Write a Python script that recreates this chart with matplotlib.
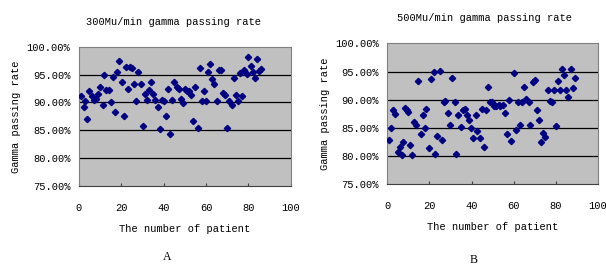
import numpy as np
import matplotlib
matplotlib.use("Agg")
import matplotlib.pyplot as plt
from matplotlib.ticker import FuncFormatter

# Panel A: 300Mu/min, one point per patient
rate_300 = [91.2, 89.2, 90.2, 87.0, 92.1, 91.2, 90.5, 90.6, 91.5, 92.8,
            89.5, 94.9, 92.2, 92.2, 90.0, 94.6, 88.2, 95.5, 97.4, 93.6,
            87.5, 96.4, 92.4, 96.4, 96.2, 93.4, 90.3, 95.4, 93.4, 85.7,
            91.5, 90.5, 92.2, 93.6, 91.5, 90.5, 89.2, 85.2, 90.5, 90.2,
            87.5, 92.5, 84.3, 90.5, 93.6, 92.8, 92.5, 90.6, 89.9, 92.4,
            92.1, 92.1, 91.4, 86.6, 92.7, 85.4, 96.2, 90.3, 92.1, 90.3,
            95.5, 97.0, 94.2, 93.3, 90.3, 95.8, 95.9, 91.7, 91.4, 85.4,
            90.2, 89.6, 94.4, 91.3, 90.2, 95.3, 91.1, 95.8, 95.1, 98.2,
            96.6, 95.5, 94.4, 97.9, 95.6, 96.0]
patient_300 = [1.1, 2.4, 3.1, 4.1, 5.0, 6.1, 7.2, 8.0, 9.0, 10.1,
               11.2, 12.1, 12.9, 14.2, 15.1, 16.2, 17.2, 18.0, 19.1, 20.2,
               21.3, 22.4, 23.0, 24.1, 25.2, 26.1, 27.2, 28.0, 29.3, 30.2,
               31.2, 32.1, 33.1, 34.0, 35.1, 36.1, 37.2, 38.1, 39.1, 40.2,
               41.1, 42.2, 43.1, 44.1, 45.0, 46.1, 47.1, 48.0, 49.0, 50.1,
               51.0, 52.1, 53.1, 54.0, 55.0, 56.1, 57.2, 58.1, 59.1, 60.2,
               61.1, 62.0, 63.0, 63.9, 65.0, 66.0, 67.1, 68.0, 69.0, 70.1,
               71.0, 72.1, 73.1, 74.0, 75.0, 75.9, 77.0, 78.0, 79.1, 80.0,
               81.1, 82.0, 83.0, 84.1, 85.0, 86.0]

# Panel B: 500Mu/min
rate_500 = [82.8, 85.0, 88.2, 87.4, 80.7, 81.6, 80.1, 82.5, 88.6, 88.2,
            87.8, 81.9, 80.2, 86.0, 85.5, 93.4, 83.9, 87.2, 84.9, 88.4,
            81.4, 93.7, 94.9, 80.3, 83.6, 95.1, 82.8, 89.5, 89.8, 87.6,
            85.5, 93.8, 89.5, 80.3, 87.2, 85.2, 88.1, 88.3, 87.2, 86.3,
            85.0, 83.2, 87.2, 84.5, 83.2, 88.3, 81.6, 88.2, 92.2, 89.6,
            89.6, 88.9, 88.8, 89.1, 88.9, 89.1, 87.6, 83.9, 90.0, 82.7,
            94.8, 84.6, 89.6, 85.5, 89.5, 92.3, 90.2, 89.6, 85.5, 93.2,
            93.5, 88.1, 86.4, 82.5, 84.1, 83.3, 91.7, 89.8, 89.6, 91.8,
            85.4, 93.4, 91.7, 95.5, 94.4, 91.8, 90.4, 95.4, 92.0, 93.9]
patient_500 = [0.9, 1.9, 2.7, 3.8, 4.9, 6.0, 7.1, 7.7, 8.5, 9.3,
               9.8, 10.9, 11.8, 12.8, 13.7, 14.7, 15.8, 16.9, 17.7, 18.6,
               19.7, 20.9, 22.0, 22.7, 23.7, 24.8, 25.9, 26.7, 27.6, 28.8,
               29.9, 30.8, 31.9, 32.7, 33.6, 34.8, 35.7, 36.8, 37.8, 38.7,
               39.8, 40.8, 41.9, 42.7, 43.8, 44.7, 45.8, 46.8, 47.7, 48.8,
               49.8, 50.7, 51.8, 52.8, 53.7, 54.8, 55.9, 56.9, 57.8, 58.9,
               59.9, 61.0, 62.1, 62.9, 64.0, 64.9, 65.9, 67.0, 67.9, 69.0,
               70.0, 70.9, 72.0, 73.0, 73.9, 75.0, 76.0, 77.1, 78.0, 79.0,
               80.1, 81.0, 82.1, 82.9, 84.0, 85.0, 85.9, 87.0, 88.0, 88.9]

x_ticks = [0, 20, 40, 60, 80, 100]
y_ticks = [75, 80, 85, 90, 95, 100]

panels = [
    ("300Mu/min gamma passing rate", patient_300, rate_300, "A",
     [0.130, 0.301, 0.350, 0.523], (0.287, 0.917), (0.276, 0.034)),
    ("500Mu/min gamma passing rate", patient_500, rate_500, "B",
     [0.639, 0.308, 0.348, 0.529], (0.799, 0.932), (0.781, 0.024)),
]

mono = "Liberation Mono"
fig = plt.figure(figsize=(6.06, 2.66), dpi=100)

for title, xs, ys, letter, rect, title_pos, letter_pos in panels:
    ax = fig.add_axes(rect)
    ax.set_facecolor("#c0c0c0")
    for g in [80, 85, 90, 95]:
        ax.axhline(g, color="black", lw=0.9, zorder=1)
    ax.plot(xs, ys, linestyle="none", marker="D", ms=3.2,
            color="#000080", zorder=3)
    ax.set_xlim(0, 100)
    ax.set_ylim(75, 100)
    ax.set_xticks(x_ticks)
    ax.set_yticks(y_ticks)
    ax.yaxis.set_major_formatter(FuncFormatter(lambda v, p: f"{v:.2f}%"))
    ax.tick_params(axis="x", direction="in", length=2, width=0.8,
                   colors="#404040", labelcolor="black", pad=12)
    ax.tick_params(axis="y", length=0, pad=6)
    for lab in ax.get_xticklabels() + ax.get_yticklabels():
        lab.set_fontfamily(mono)
        lab.set_fontsize(7.5)
    for side in ax.spines:
        ax.spines[side].set_color("#808080")
        ax.spines[side].set_linewidth(0.8)
    ax.spines["bottom"].set_color("#404040")
    ax.set_xlabel("The number of patient", family=mono, fontsize=7.5, labelpad=8)
    ax.set_ylabel("Gamma passing rate", family=mono, fontsize=7.5, labelpad=4)
    fig.text(title_pos[0], title_pos[1], title, family=mono, fontsize=7.5,
             ha="center", va="center")
    fig.text(letter_pos[0], letter_pos[1], letter, family="Liberation Serif",
             fontsize=8.5, ha="center", va="center")

fig.savefig("out.png", dpi=100, facecolor="white")
